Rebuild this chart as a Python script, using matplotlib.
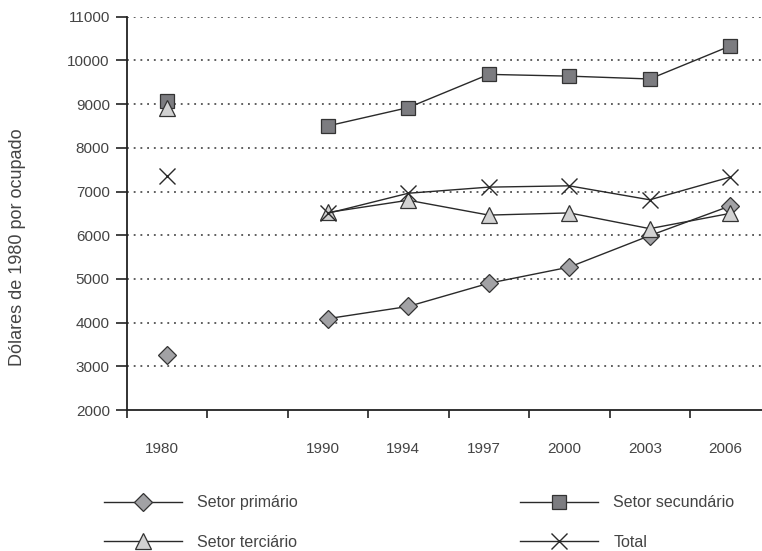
import numpy as np
import matplotlib
matplotlib.use('Agg')
import matplotlib.pyplot as plt
import matplotlib.transforms as mtrans

# categories (blank slot between 1980 and 1990)
years = ['1980', '', '1990', '1994', '1997', '2000', '2003', '2006']
nan = np.nan
primario = [3260, nan, 4090, 4370, 4900, 5270, 5990, 6670]
secundario = [9080, nan, 8500, 8920, 9680, 9640, 9575, 10330]
terciario = [8920, nan, 6520, 6800, 6460, 6510, 6150, 6500]
total = [7350, nan, 6500, 6960, 7100, 7130, 6810, 7330]

plt.rcParams['font.family'] = ['Liberation Sans', 'DejaVu Sans']
txt = '#444444'
line_c = '#2a2a2a'

fig = plt.figure(figsize=(7.62, 5.51), dpi=100)
ax = fig.add_axes([126.5 / 762, 1 - 410 / 551, 644 / 762, (410 - 16.7) / 551])

x = np.arange(len(years)) + 0.5

ax.plot(x, primario, color=line_c, lw=1.0, marker='D', ms=9.5,
        mfc='#a2a2a5', mec='#333333', mew=0.9, label='Setor primário', zorder=3)
ax.plot(x, secundario, color=line_c, lw=1.0, marker='s', ms=9.5,
        mfc='#7c7c80', mec='#333333', mew=0.9, label='Setor secundário', zorder=3)
ax.plot(x, terciario, color=line_c, lw=1.0, marker='^', ms=12,
        mfc='#d2d2d2', mec='#333333', mew=0.9, label='Setor terciário', zorder=3)
ax.plot(x, total, color=line_c, lw=1.0, marker='x', ms=11,
        mec='#2a2a2a', mew=1.0, label='Total', zorder=3)

ax.set_xlim(0, len(years))
ax.set_ylim(2000, 11000)
ax.set_yticks(np.arange(2000, 11001, 1000))
ax.set_xticks(x)
ax.set_xticklabels(years)
ax.set_xticks(np.arange(0, len(years) + 1), minor=True)
ax.tick_params(axis='x', which='major', length=0, pad=23, labelsize=11, labelcolor=txt)
ax.tick_params(axis='x', which='minor', length=6, width=1.2, color='#222222', direction='out')
ax.tick_params(axis='y', length=8, width=1.2, color='#222222', pad=4, labelsize=11, labelcolor=txt)

# labels sit a bit left of the slot centre
shift = mtrans.ScaledTranslation(-0.05, 0, fig.dpi_scale_trans)
for lab in ax.get_xticklabels():
    lab.set_transform(lab.get_transform() + shift)

for v in range(3000, 11001, 1000):
    ax.axhline(v, color='#333333', lw=1.1, ls=(0, (1.2, 3.2)), zorder=1)

for s in ['top', 'right']:
    ax.spines[s].set_visible(False)
for s in ['bottom', 'left']:
    ax.spines[s].set_linewidth(1.3)
    ax.spines[s].set_color('#222222')

fig.text(18 / 762, 1 - 247 / 551, 'Dólares de 1980 por ocupado', rotation=90,
         ha='center', va='center', fontsize=13, color=txt)

h, l = ax.get_legend_handles_labels()
order = [0, 2, 1, 3]
fig.legend([h[i] for i in order], [l[i] for i in order], ncol=2,
           loc='center left', bbox_to_anchor=(104 / 762, 1 - 522.5 / 551),
           frameon=False, borderpad=0, borderaxespad=0, handlelength=4.9,
           handletextpad=0.94, columnspacing=13.9, labelspacing=1.52,
           fontsize=11.5, labelcolor=txt)

fig.savefig('out.png', dpi=100)
